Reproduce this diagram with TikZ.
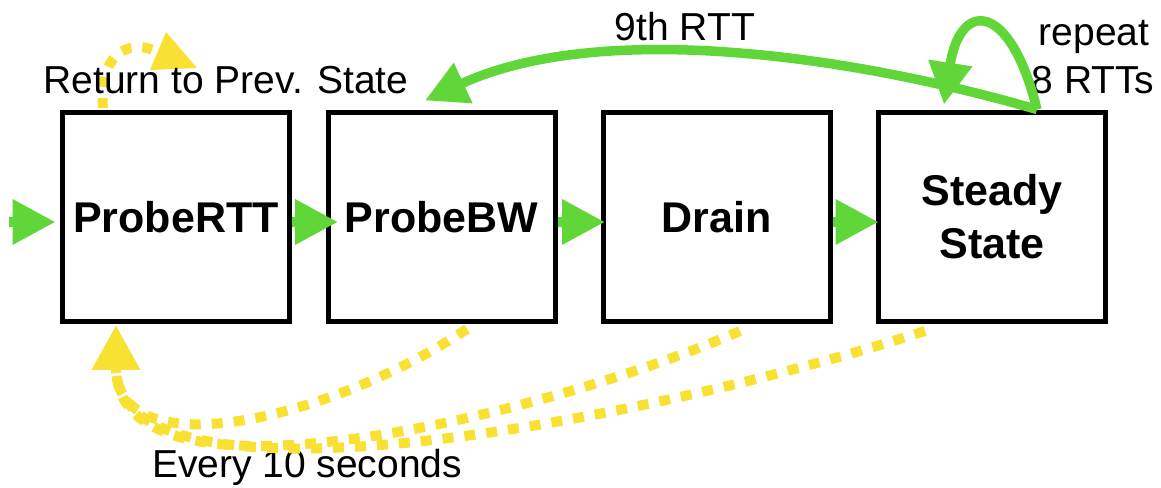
\documentclass[tikz,border=0pt]{standalone}
\usepackage{fontspec}
\setmainfont{Liberation Sans}
\usetikzlibrary{arrows.meta,calc}
\definecolor{grn}{RGB}{97,214,57}
\definecolor{ylw}{RGB}{249,225,52}
\begin{document}
\begin{tikzpicture}[x=0.5pt,y=-0.5pt,
  state/.style={draw=black,line width=2.5pt,minimum width=113.5pt,minimum height=104.5pt,
    inner sep=0pt,align=center,font=\bfseries\fontsize{21.5}{26.5}\selectfont},
  lbl/.style={font=\fontsize{19.5}{23}\selectfont,inner sep=0pt,anchor=base},
  garrow/.style={draw=grn,line width=5pt,-{Triangle[length=21.5pt,width=21.5pt]}},
  gcurve/.style={draw=grn,line width=4.75pt,-{Triangle[length=21pt,width=21pt]}},
  ydots/.style={draw=ylw,line width=5pt,dash pattern=on 5.5pt off 5.5pt,
    -{Triangle[length=22pt,width=22.5pt]}},
  yloop/.style={draw=ylw,line width=5pt,dash pattern=on 5pt off 5.5pt},
]
\useasboundingbox (0,0) rectangle (1161,487);

% yellow "return to previous state" loop (behind text)
\coordinate (lpstart) at (103,108);
\coordinate (lpend) at (165,56);
\draw[yloop] (lpstart) .. controls (98,48) and (135,36) .. (lpend);
\fill[ylw] (166,32) -- (150,70) -- (197,68) -- cycle;

% states
\node[state] (rtt) at (176,217) {ProbeRTT};
\node[state] (bw)  at (441.5,217) {ProbeBW};
\node[state] (dr)  at (716.5,217) {Drain};
\node[state] (st)  at (992,217) {Steady\\State};

% labels
\node[lbl] (ret) at (226,93) {Return to Prev. State};
\node[lbl] (nth) at (685,40) {9th RTT};
\node[lbl] (rep) at (1094,45) {repeat};
\node[lbl] (rep2) at (1093,93) {8 RTTs};
\node[lbl] (every) at (307,477) {Every 10 seconds};

% green forward arrows
\coordinate (in) at (9,222);
\draw[garrow] (in) -- ($(rtt.west)+(-4.5,5)$);
\draw[garrow] ($(rtt.east)+(0,5)$) -- ($(bw.west)+(12.5,5)$);
\draw[garrow] ($(bw.east)+(0,5)$) -- ($(dr.west)+(4.5,5)$);
\draw[garrow] ($(dr.east)+(0,5)$) -- ($(st.west)+(2.5,5)$);

% green 9th RTT arc and self loop
\coordinate (stn) at ($(st.north)+(45,-0.5)$);
\draw[gcurve] (stn) .. controls (850,55) and (600,20) .. ($(bw.north)+(-16.5,-9.5)$);
\draw[gcurve] (stn) .. controls (1010,0) and (960,0) .. ($(st.north)+(-48,-5.5)$);

% yellow "every 10 seconds" arrows
\coordinate (yt) at ($(rtt.south)+(-60,1.5)$);
\draw[ydots] ($(bw.south)+(25.5,5)$) .. controls (330,420) and (116,470) .. (yt);
\draw[ydots] ($(dr.south)+(23.5,7)$) .. controls (560,410) and (116,525) .. (yt);
\draw[ydots] ($(st.south)+(-67,7)$) .. controls (650,420) and (116,525) .. (yt);
\end{tikzpicture}
\end{document}
